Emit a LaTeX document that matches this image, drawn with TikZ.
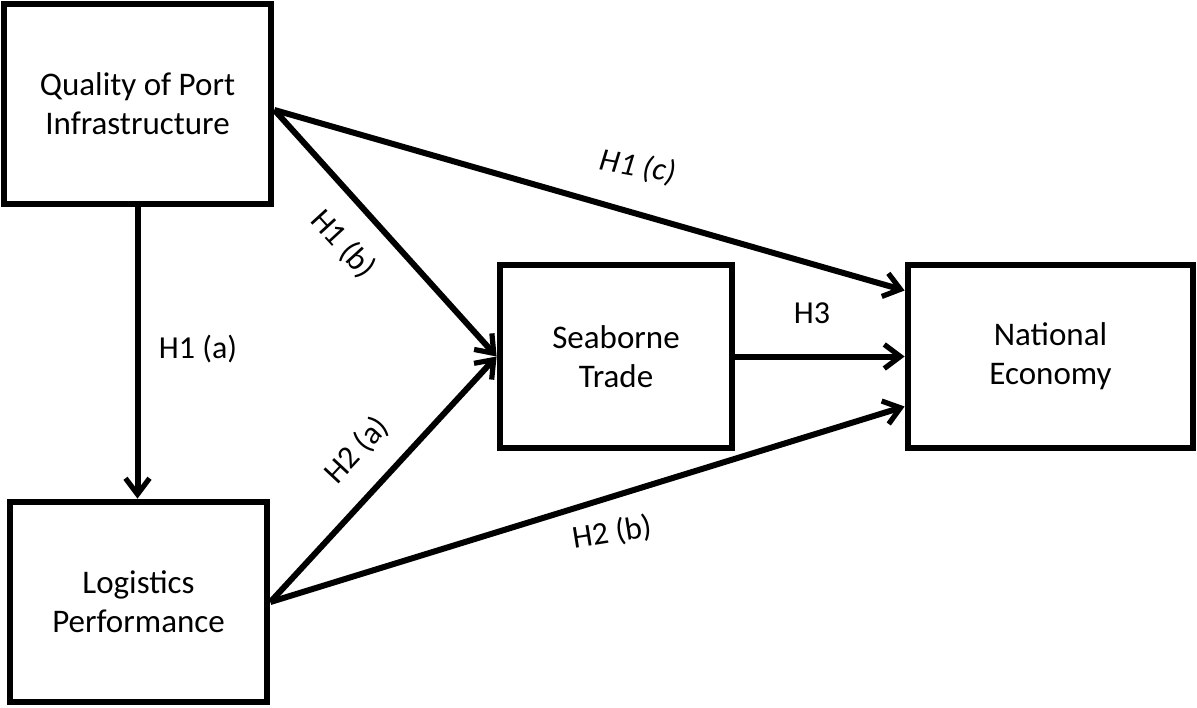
\documentclass[tikz,border=0pt]{standalone}
\usepackage{fontspec}
\setmainfont{Carlito}
\usetikzlibrary{arrows.meta}
\tikzset{
  box/.style={draw=black, line width=3.4pt, fill=white, align=center, inner sep=0pt,
    font=\fontsize{16.5}{19.5}\selectfont},
  link/.style={line width=3pt, -{Straight Barb[length=8pt,width=12pt,line width=2.6pt]}},
  lbl/.style={font=\fontsize{16}{19}\selectfont, inner sep=0pt}
}
\begin{document}
\begin{tikzpicture}[x=0.5pt,y=-0.5pt]
\useasboundingbox (0,0) rectangle (1197,707);
\node[box, minimum width=133.5pt, minimum height=100pt] (qpi) at (137.5,104) {Quality of Port\\Infrastructure};
\node[box, minimum width=128.5pt, minimum height=100pt] (lp) at (138.5,602) {Logistics\\Performance};
\node[box, minimum width=116pt, minimum height=91.5pt] (st) at (616,356.5) {Seaborne\\Trade};
\node[box, minimum width=142.5pt, minimum height=91.5pt] (ne) at (1050.5,356.5) {National\\Economy};

\coordinate (qpiout) at ([yshift=-3pt]qpi.east);
\coordinate (neA) at ([yshift=33pt]ne.west);
\coordinate (neC) at ([yshift=-25pt]ne.west);

\draw[link] (qpi.south) -- (qpi.south |- lp.north);
\draw[link] (qpiout) -- (st.west);
\draw[link] (qpiout) -- (neA);
\draw[link] (st.east) -- (ne.west);
\draw[link] (lp.east) -- (st.west);
\draw[link] (lp.east) -- (neC);

\node[lbl] (la) at (198,349) {H1 (a)};
\node[lbl, rotate=-47.5] (lb) at (343,244) {H1 (b)};
\node[lbl, rotate=-10] (lc) at (638,167) {\itshape H1 (c)};
\node[lbl] (l3) at (812,313) {H3};
\node[lbl, rotate=47] (l2a) at (357,450) {H2 (a)};
\node[lbl, rotate=9] (l2b) at (612,533) {H2 (b)};
\end{tikzpicture}
\end{document}
